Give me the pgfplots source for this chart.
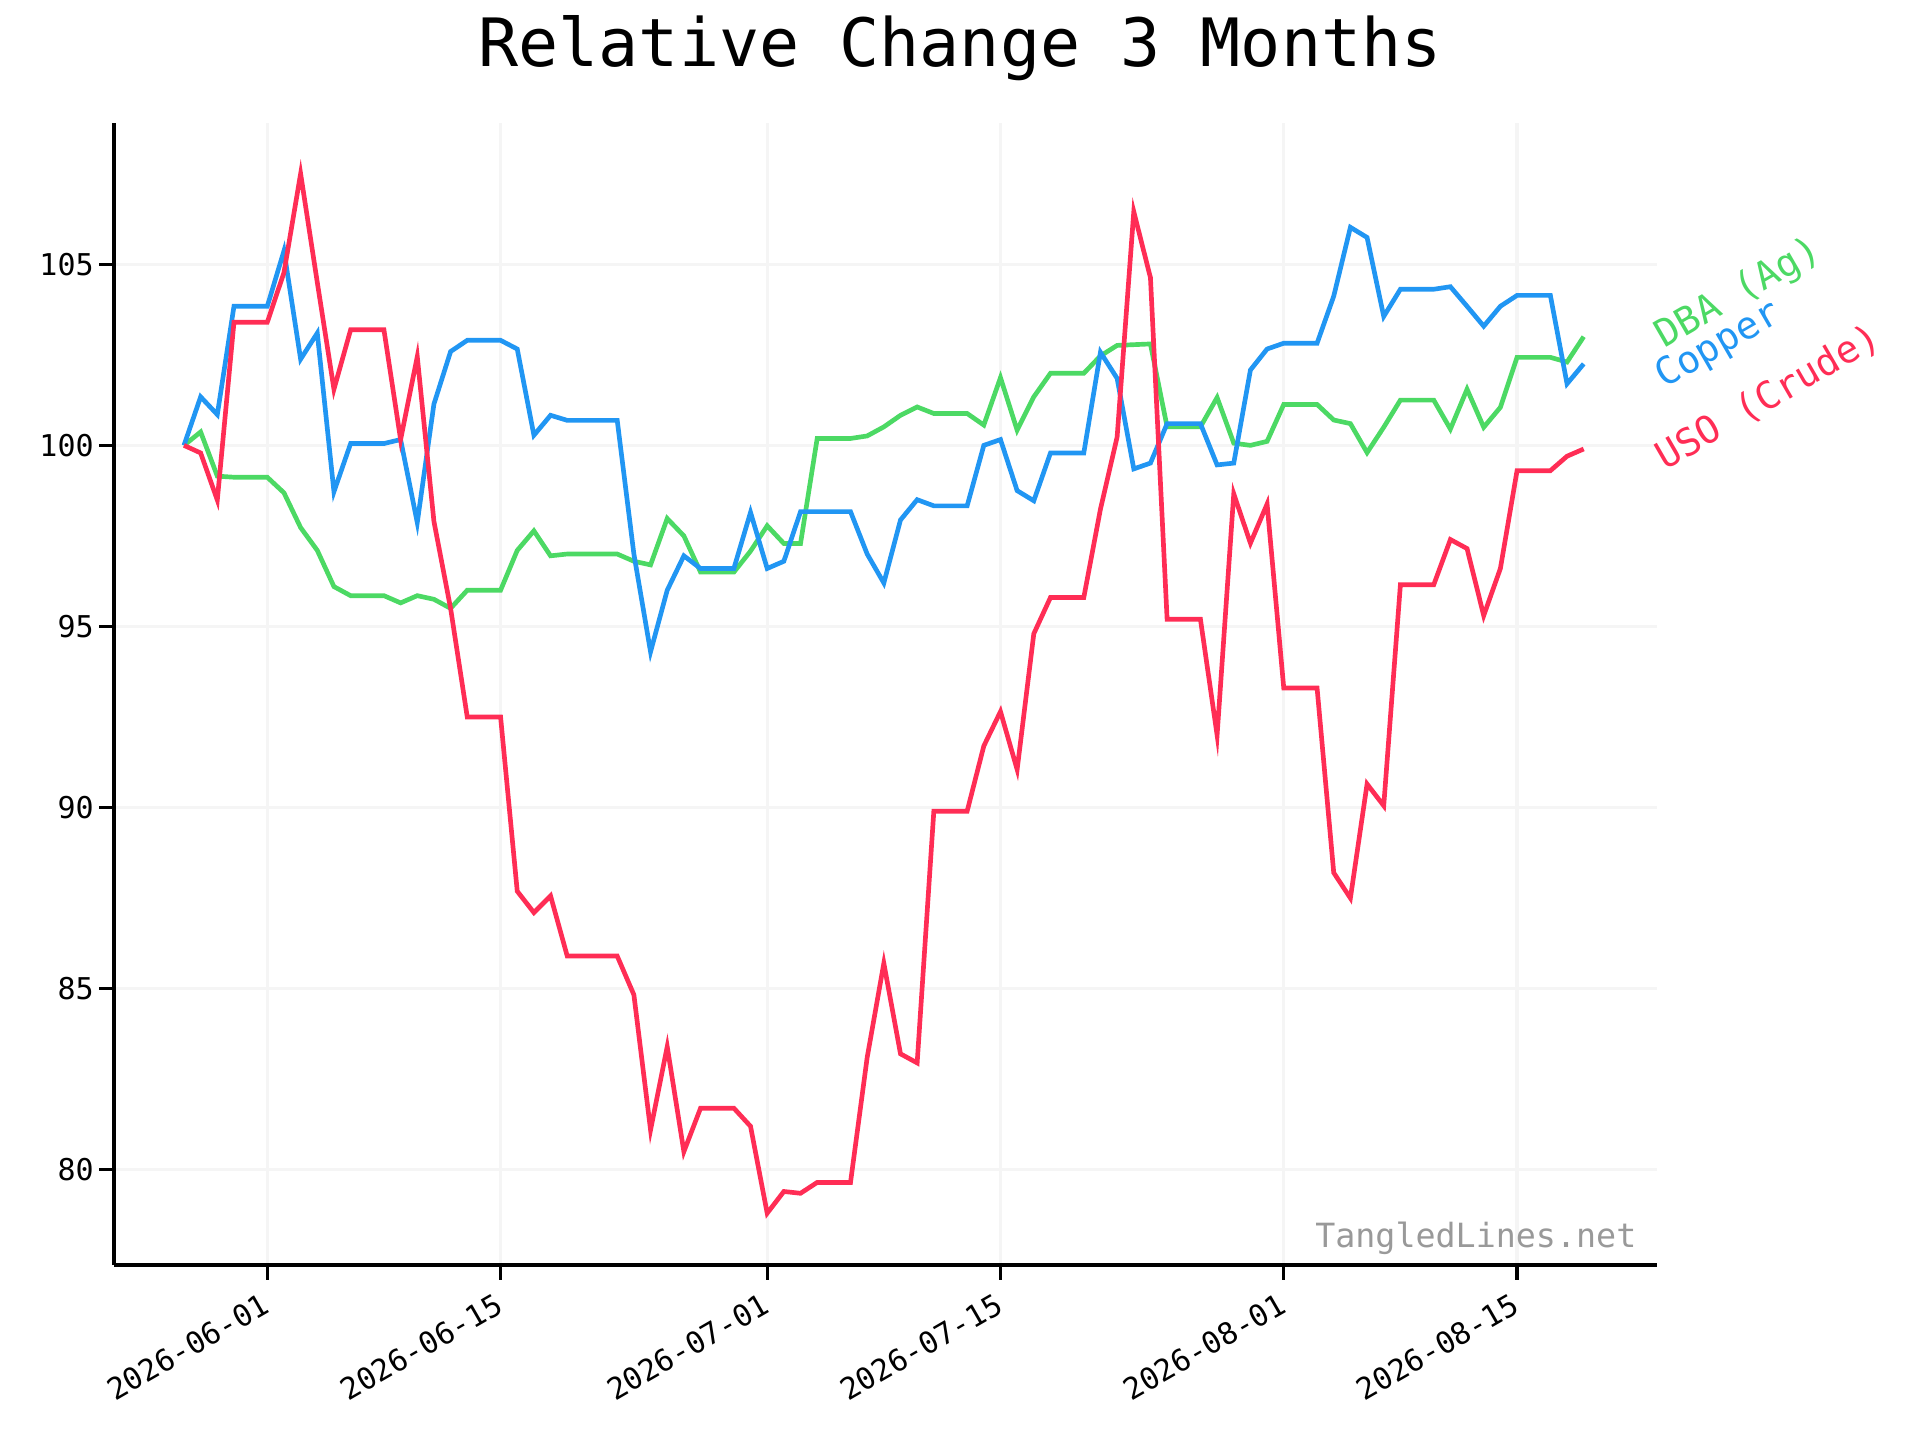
\documentclass[border=0pt]{standalone}
\usepackage{fontspec}
\setmainfont{DejaVu Sans Mono}
\usepackage{pgfplots}
\pgfplotsset{compat=1.18}
\usepackage{pgfplotstable}
\definecolor{cred}{HTML}{FF2D55}
\definecolor{cblue}{HTML}{2196F3}
\definecolor{cgreen}{HTML}{4CD964}
\definecolor{gridc}{HTML}{F5F5F5}
\definecolor{wm}{HTML}{999999}

\pgfplotstableread{
d copper dba uso
-5 100 100 100
-4 101.34 100.37 99.79
-3 100.85 99.15 98.49
-2 103.84 99.12 103.40
-1 103.84 99.12 103.40
0 103.84 99.12 103.40
1 105.37 98.69 104.77
2 102.38 97.73 107.5
3 103.10 97.1 104.5
4 98.72 96.1 101.55
5 100.05 95.85 103.19
6 100.05 95.85 103.19
7 100.05 95.85 103.19
8 100.16 95.65 100.16
9 97.87 95.85 102.45
10 101.14 95.75 97.9
11 102.59 95.5 95.5
12 102.90 96.0 92.5
13 102.90 96.0 92.5
14 102.90 96.0 92.5
15 102.66 97.1 87.69
16 100.28 97.64 87.10
17 100.83 96.95 87.56
18 100.69 97.0 85.90
19 100.69 97.0 85.90
20 100.69 97.0 85.90
21 100.69 97.0 85.90
22 97.0 96.8 84.83
23 94.3 96.7 81.1
24 96.0 97.98 83.4
25 96.95 97.5 80.5
26 96.6 96.5 81.7
27 96.6 96.5 81.7
28 96.6 96.5 81.7
29 98.15 97.08 81.2
30 96.6 97.78 78.8
31 96.8 97.29 79.4
32 98.17 97.29 79.35
33 98.17 100.19 79.65
34 98.17 100.19 79.65
35 98.17 100.19 79.65
36 97.0 100.26 83.1
37 96.2 100.51 85.7
38 97.94 100.83 83.2
39 98.5 101.06 82.95
40 98.33 100.88 89.9
41 98.33 100.88 89.9
42 98.33 100.88 89.9
43 100.0 100.56 91.7
44 100.16 101.87 92.65
45 98.75 100.42 91.05
46 98.47 101.34 94.8
47 99.79 101.99 95.8
48 99.79 101.99 95.8
49 99.79 101.99 95.8
50 102.57 102.47 98.24
51 101.85 102.76 100.23
52 99.35 102.78 106.45
53 99.51 102.8 104.63
54 100.6 100.51 95.2
55 100.6 100.51 95.2
56 100.6 100.51 95.2
57 99.46 101.32 92.0
58 99.51 100.06 98.66
59 102.08 100.0 97.3
60 102.66 100.11 98.38
61 102.82 101.13 93.3
62 102.82 101.13 93.3
63 102.82 101.13 93.3
64 104.12 100.7 88.2
65 106.02 100.6 87.5
66 105.74 99.8 90.65
67 103.56 100.5 90.05
68 104.31 101.25 96.15
69 104.31 101.25 96.15
70 104.31 101.25 96.15
71 104.38 100.45 97.4
72 103.84 101.55 97.15
73 103.29 100.5 95.3
74 103.84 101.05 96.6
75 104.14 102.43 99.3
76 104.14 102.43 99.3
77 104.14 102.43 99.3
78 101.7 102.3 99.7
79 102.25 103.0 99.9
}\data

\begin{document}
\begin{tikzpicture}
\useasboundingbox (-34.2pt,-52.5pt) rectangle (541.8pt,379.5pt);
\begin{axis}[
  at={(0,0)}, anchor=south west, scale only axis,
  width=462.9pt, height=342.6pt,
  xmin=-9.2, xmax=83.4, ymin=77.37, ymax=108.9,
  axis x line*=bottom, axis y line*=left,
  axis line style={-, line width=1pt, black},
  xtick={0,14,30,44,61,75},
  xticklabels={2026-06-01,2026-06-15,2026-07-01,2026-07-15,2026-08-01,2026-08-15},
  ytick={80,85,90,95,100,105},
  tick align=outside, major tick length=4.4pt,
  tick style={line width=1pt, black},
  grid=major, major grid style={gridc, line width=1pt},
  ticklabel style={font=\fontsize{9}{10}\selectfont},
  xticklabel style={xshift=-2pt, yshift=-3.5pt, rotate=30, anchor=north east, inner sep=0pt},
  yticklabel style={anchor=east, inner sep=0pt, xshift=-1.5pt},
  /pgf/number format/assume math mode=true,
  clip=false,
]
\addplot[cgreen, line width=1.4pt] table[x=d, y=dba] {\data};
\addplot[cblue, line width=1.4pt] table[x=d, y=copper] {\data};
\addplot[cred, line width=1.4pt] table[x=d, y=uso] {\data};
\node[anchor=west, rotate=30, text=cgreen, font=\fontsize{11.4}{13}\selectfont, inner sep=0pt] at ([xshift=2.5pt,yshift=-1pt]axis cs:83,103.0) {DBA (Ag)};
\node[anchor=west, rotate=30, text=cblue, font=\fontsize{11.4}{13}\selectfont, inner sep=0pt] at ([xshift=2.5pt,yshift=-5pt]axis cs:83,102.25) {Copper};
\node[anchor=west, rotate=30, text=cred, font=\fontsize{11.4}{13}\selectfont, inner sep=0pt] at ([xshift=2.5pt,yshift=-3.5pt]axis cs:83,99.9) {USO (Crude)};
\node[anchor=base east, text=wm, font=\fontsize{10}{12}\selectfont, inner sep=0pt] at ([xshift=-6pt,yshift=5.4pt]rel axis cs:1,0) {TangledLines.net};
\end{axis}
\node[anchor=base, font=\fontsize{20}{24}\selectfont, inner sep=0pt] at (253.8pt,359.4pt) {Relative Change 3 Months};
\end{tikzpicture}
\end{document}
